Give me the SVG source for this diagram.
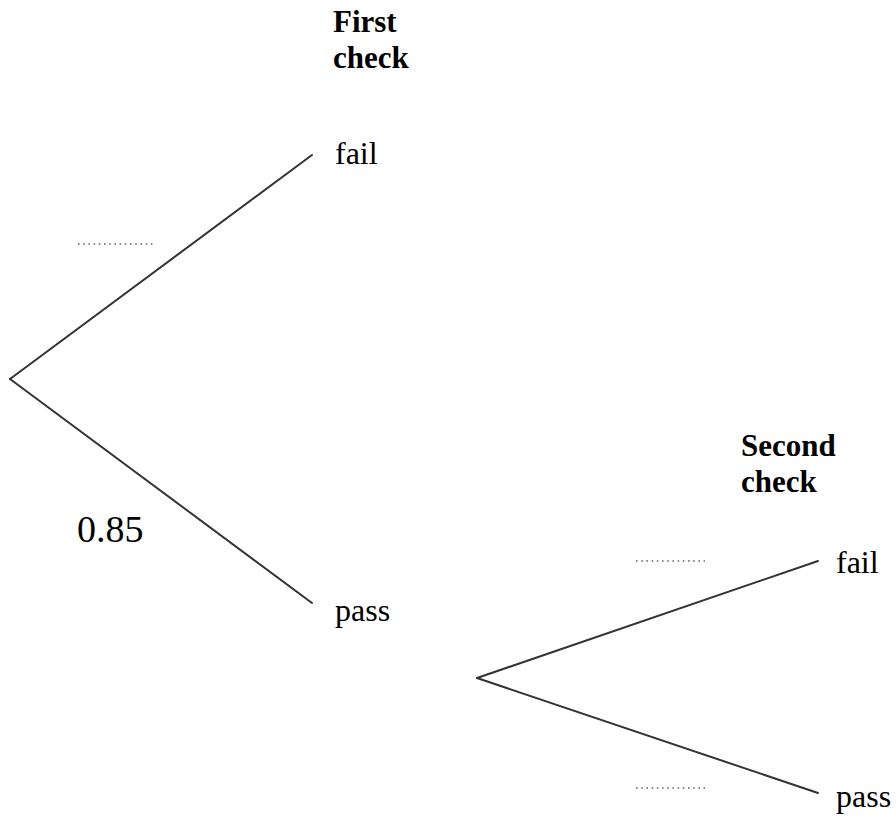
<svg xmlns="http://www.w3.org/2000/svg" width="896" height="818" viewBox="0 0 896 818">
  <style>
    text { font-family: 'Liberation Serif', 'Times New Roman', serif; font-size: 32px; fill: #000; }
    .hdr { font-weight: bold; font-size: 31px; }
    .prob { font-size: 38px; }
    .branch { stroke: #333; stroke-width: 2; fill: none; stroke-linecap: round; }
    .blank { stroke: #8a8a9a; stroke-width: 2; stroke-dasharray: 1.6 3.6; fill: none; }
  </style>
  <rect width="896" height="818" fill="#fff"/>

  <!-- column headings -->
  <g id="heading-first">
    <text class="hdr" x="333" y="32">First</text>
    <text class="hdr" x="333" y="68">check</text>
  </g>
  <g id="heading-second">
    <text class="hdr" x="741" y="456">Second</text>
    <text class="hdr" x="741" y="492">check</text>
  </g>

  <!-- branches -->
  <g id="connectors">
    <line class="branch" x1="10" y1="379" x2="312" y2="155"/>
    <line class="branch" x1="10" y1="379" x2="312" y2="603"/>
    <line class="branch" x1="477" y1="678" x2="818" y2="561"/>
    <line class="branch" x1="477" y1="678" x2="818" y2="793"/>
  </g>

  <!-- outcomes of first check -->
  <g id="first-fail">
    <text x="335" y="164">fail</text>
  </g>
  <g id="first-pass">
    <text x="335" y="621">pass</text>
  </g>

  <!-- outcomes of second check -->
  <g id="second-fail">
    <text x="836" y="573">fail</text>
  </g>
  <g id="second-pass">
    <text x="836" y="807">pass</text>
  </g>

  <!-- probabilities -->
  <g id="prob-first-fail">
    <line class="blank" x1="78" y1="244" x2="156" y2="244"/>
  </g>
  <g id="prob-first-pass">
    <text class="prob" x="77" y="542">0.85</text>
  </g>
  <g id="prob-second-fail">
    <line class="blank" x1="636" y1="561" x2="705" y2="561"/>
  </g>
  <g id="prob-second-pass">
    <line class="blank" x1="636" y1="788" x2="705" y2="788"/>
  </g>
</svg>
